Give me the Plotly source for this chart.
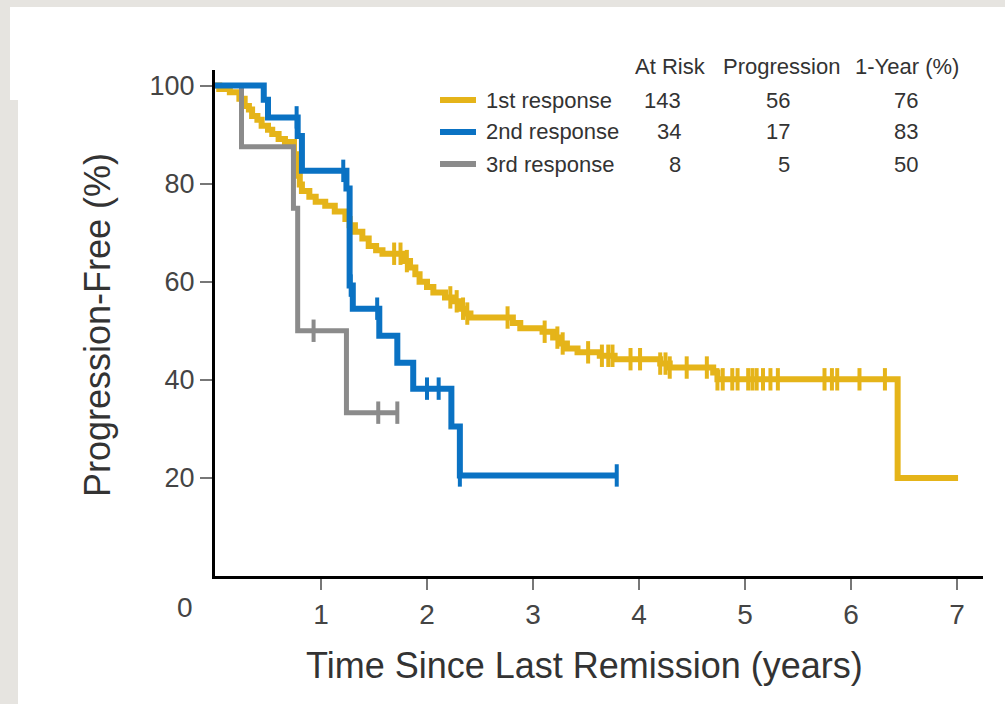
import numpy as np
import plotly.graph_objects as go

# ---------------- data ----------------
# 1st response (yellow): step times (years) and progression-free %
t_first = [0.00, 0.04, 0.14, 0.23, 0.28, 0.32, 0.35, 0.40, 0.44, 0.50, 0.54, 0.60, 0.66,
           0.745, 0.765, 0.78, 0.80, 0.82, 0.89, 0.95, 1.04, 1.13, 1.23, 1.27, 1.32,
           1.39, 1.45, 1.52, 1.58, 1.79, 1.84, 1.89, 1.93, 2.00, 2.06, 2.17, 2.25,
           2.31, 2.36, 2.41, 2.81, 2.88, 3.09, 3.19, 3.25, 3.32, 3.42, 3.63, 3.77,
           4.20, 4.29, 4.70, 4.74, 6.44, 7.01]
s_first = [100, 99.3, 98.6, 97.3, 95.8, 95.1, 93.8, 93.0, 91.8, 91.0, 90.1, 89.1, 88.5,
           86.0, 83.5, 81.6, 79.8, 78.5, 77.3, 76.3, 75.5, 74.3, 72.8, 71.5, 70.2,
           68.8, 67.3, 66.4, 65.7, 64.2, 62.9, 61.5, 60.0, 58.9, 57.8, 56.8, 56.0,
           54.5, 53.5, 52.7, 51.6, 50.5, 49.8, 48.6, 47.4, 46.4, 45.6, 44.9, 44.2,
           43.3, 42.5, 41.5, 40.1, 20.0, 20.0]
c_first = [1.69, 1.75, 1.81, 2.22, 2.28, 2.34, 2.38, 2.76, 3.11, 3.23, 3.28, 3.52, 3.65,
           3.71, 3.75, 3.92, 4.01, 4.20, 4.25, 4.29, 4.45, 4.64, 4.74, 4.79, 4.88, 4.93,
           5.03, 5.07, 5.11, 5.17, 5.24, 5.31, 5.75, 5.82, 5.87, 6.08, 6.32]

# 2nd response (blue)
t_second = [0.00, 0.46, 0.50, 0.78, 0.82, 1.24, 1.27, 1.30, 1.55, 1.72, 1.87, 2.23, 2.31, 3.79]
s_second = [100, 97.1, 93.5, 89.7, 82.6, 79.0, 59.2, 54.5, 49.0, 43.5, 38.2, 30.5, 20.5, 20.5]
c_second = [0.77, 1.21, 1.28, 1.53, 2.00, 2.11, 2.31, 3.79]

# 3rd response (gray)
t_third = [0.00, 0.25, 0.74, 0.78, 1.24, 1.72]
s_third = [100, 87.5, 75.0, 50.0, 33.3, 33.3]
c_third = [0.93, 1.54, 1.72]

series_names = ["1st response", "2nd response", "3rd response"]
at_risk = ["143", "34", "8"]
progression = ["56", "17", "5"]
one_year = ["76", "83", "50"]
table_headers = ["At Risk", "Progression", "1-Year (%)"]

x_ticks = [1, 2, 3, 4, 5, 6, 7]
y_ticks = [20, 40, 60, 80, 100]

# ---------------- styling / layout ----------------
W, H = 1005, 704
L, R, T, B = 215, 22, 70, 128
PW, PH = W - L - R, H - T - B
X_MAX = PW / 106.0
Y_MAX = PH / 4.905

COLORS = ["#E5B419", "#0A72C3", "#8B8B8B"]
SANS = "Liberation Sans, Arial, Helvetica, sans-serif"
TXT = "#333333"


def xp(px):
    return (px - L) / PW


def yp(py):
    return (H - B - py) / PH


def step_at(times, surv, t):
    i = int(np.searchsorted(np.array(times), t, side="right")) - 1
    return surv[max(i, 0)]


fig = go.Figure()

series = [
    (t_first, s_first, c_first, 6),
    (t_third, s_third, c_third, 5),
    (t_second, s_second, c_second, 6),
]
order_colors = [COLORS[0], COLORS[2], COLORS[1]]
for (tt, ss, cc, lw), col in zip(series, order_colors):
    fig.add_trace(go.Scatter(x=tt, y=ss, mode="lines", line=dict(color=col, width=lw, shape="hv"),
                             showlegend=False, hoverinfo="skip"))
    fig.add_trace(go.Scatter(x=cc, y=[step_at(tt, ss, c) for c in cc], mode="markers",
                             marker=dict(symbol="line-ns", size=16, color=col,
                                         line=dict(color=col, width=4)),
                             showlegend=False, hoverinfo="skip"))

shapes = [
    # screenshot frame
    dict(type="rect", xref="paper", yref="paper", x0=xp(10), x1=xp(W), y0=yp(100), y1=yp(7),
         fillcolor="white", line=dict(width=0), layer="below"),
    dict(type="rect", xref="paper", yref="paper", x0=xp(18), x1=xp(W), y0=yp(H), y1=yp(100),
         fillcolor="white", line=dict(width=0), layer="below"),
]
row_y = [100, 132, 164]
for col, ry in zip(COLORS, row_y):
    shapes.append(dict(type="line", xref="paper", yref="paper", x0=xp(440), x1=xp(476),
                       y0=yp(ry), y1=yp(ry), line=dict(color=col, width=6)))

ann = []
for name, ry in zip(series_names, row_y):
    ann.append(dict(text=name, x=xp(484), y=yp(ry), xanchor="left", yanchor="middle"))
for vals, right in zip([at_risk, progression, one_year], [683, 792, 920]):
    for v, ry in zip(vals, row_y):
        ann.append(dict(text=v, x=xp(right), y=yp(ry), xanchor="right", yanchor="middle"))
for h, cx in zip(table_headers, [670, 781, 907]):
    ann.append(dict(text=h, x=xp(cx), y=yp(66), xanchor="center", yanchor="middle"))
for a in ann:
    a.update(xref="paper", yref="paper", showarrow=False, font=dict(family=SANS, size=22, color=TXT))

ann.append(dict(text="0", x=xp(185), y=yp(607), xref="paper", yref="paper", showarrow=False,
                xanchor="center", yanchor="middle", font=dict(family=SANS, size=28, color="#444")))
ann.append(dict(text="Time Since Last Remission (years)", x=xp(584), y=yp(665), xref="paper",
                yref="paper", showarrow=False, xanchor="center", yanchor="middle",
                font=dict(family=SANS, size=36, color=TXT)))
ann.append(dict(text="Progression-Free (%)", x=xp(97), y=yp(325), xref="paper", yref="paper",
                showarrow=False, xanchor="center", yanchor="middle", textangle=-90,
                font=dict(family=SANS, size=36, color=TXT)))

fig.update_layout(
    width=W, height=H,
    margin=dict(l=L, r=R, t=T, b=B, pad=0),
    paper_bgcolor="#E6E4E0",
    plot_bgcolor="white",
    shapes=shapes,
    annotations=ann,
    xaxis=dict(range=[0, X_MAX], tickvals=x_ticks, ticktext=[str(v) for v in x_ticks],
               showgrid=False, zeroline=False, showline=True, linecolor="black", linewidth=3,
               ticks="outside", ticklen=11, tickwidth=1.5, tickcolor="#777",
               tickfont=dict(family=SANS, size=28, color="#444"), fixedrange=True),
    yaxis=dict(range=[0, Y_MAX], tickvals=y_ticks, ticktext=[str(v) for v in y_ticks],
               showgrid=False, zeroline=False, showline=True, linecolor="black", linewidth=3,
               ticks="outside", ticklen=12, tickwidth=1.5, tickcolor="#777",
               tickfont=dict(family=SANS, size=27, color="#444"), fixedrange=True),
)

fig.write_html("out.html", config={"displayModeBar": False})
